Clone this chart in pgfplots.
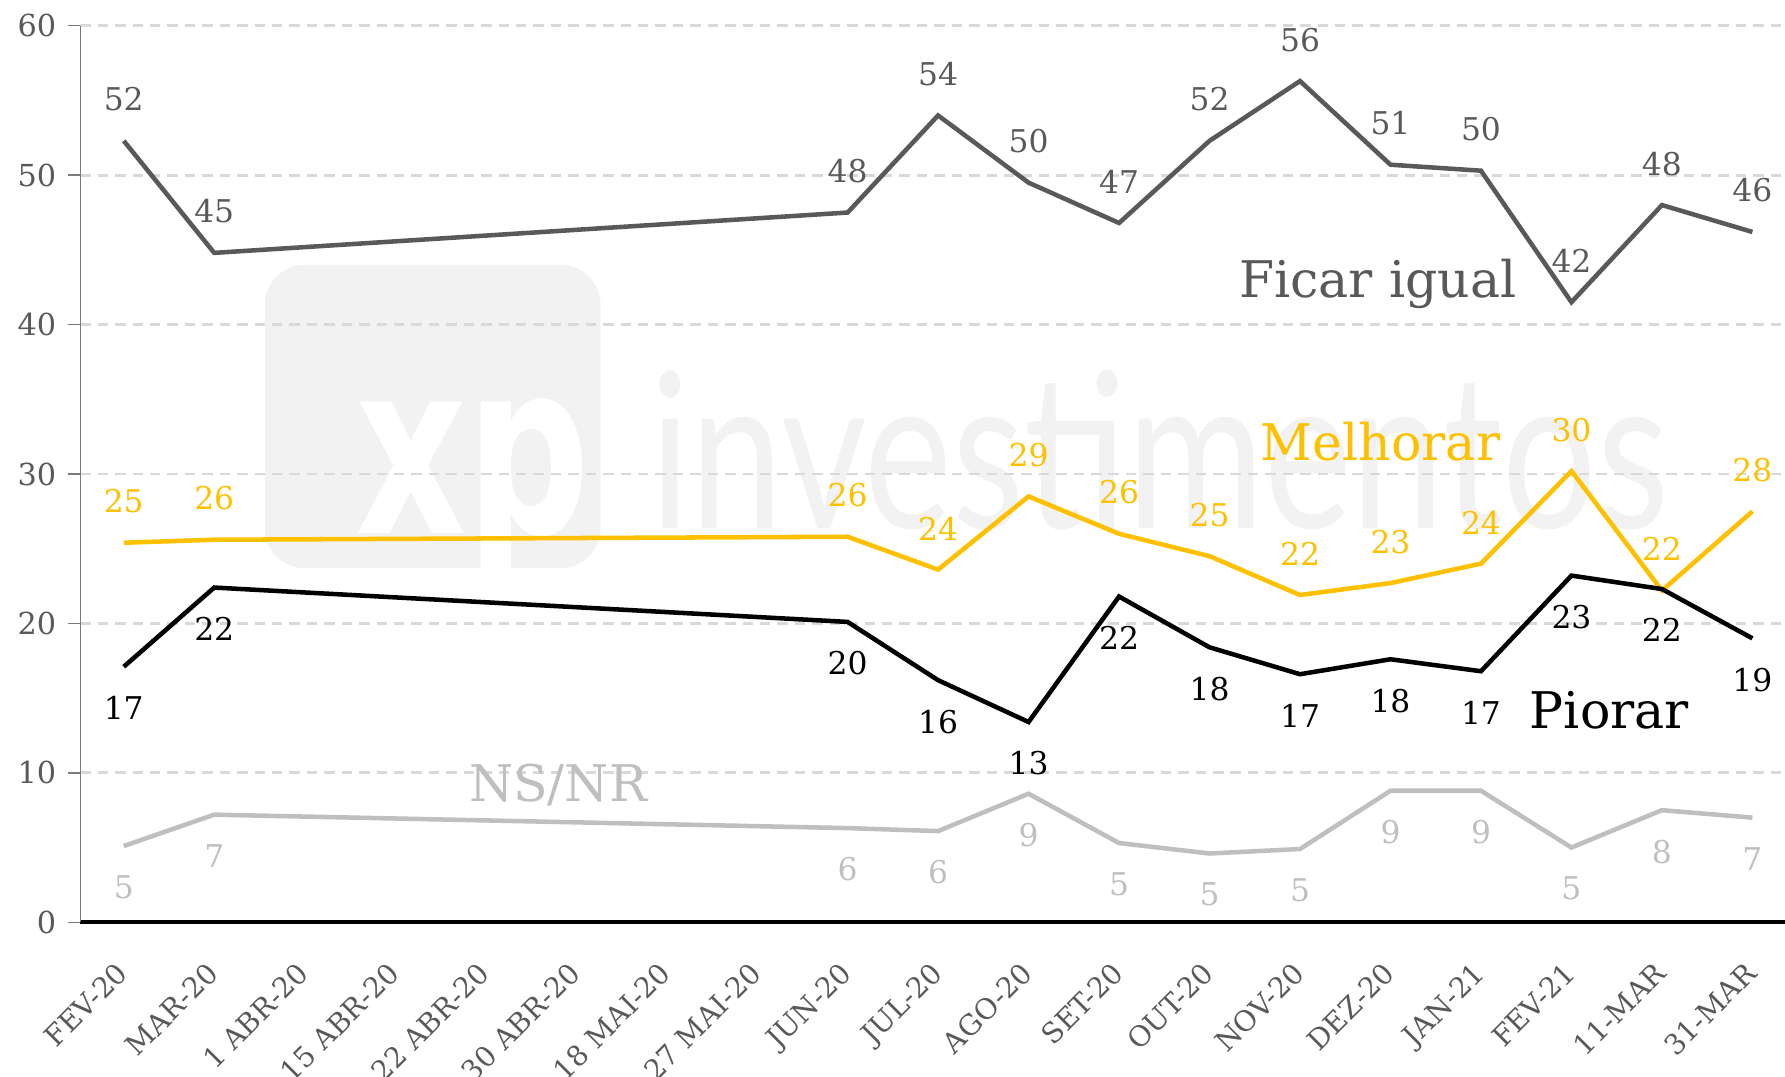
\documentclass[border=0pt]{standalone}
\usepackage{fontspec}
\setmainfont{DejaVu Serif}
\newfontfamily\latofont{Lato}
\newfontfamily\dvsans{DejaVu Sans}
\usepackage{pgfplots}
\pgfplotsset{compat=1.18}
\definecolor{igual}{HTML}{595959}
\definecolor{melhor}{HTML}{FFC000}
\definecolor{nsnr}{HTML}{BFBFBF}
\definecolor{gridc}{HTML}{D9D9D9}
\definecolor{wm}{HTML}{F2F2F2}

\begin{document}
\begin{tikzpicture}
\begin{axis}[
    set layers,
    scale only axis,
    width=17.19cm, height=9.04cm,
    xmin=-0.48, xmax=18.36, ymin=0, ymax=60,
    axis x line*=bottom, axis y line*=left,
    x axis line style={black, line width=1.2pt},
    y axis line style={igual!80, line width=0.4pt},
    ytick={0,10,...,60},
    xtick={0,...,18},
    xticklabels={FEV-20,MAR-20,1 ABR-20,15 ABR-20,22 ABR-20,30 ABR-20,18 MAI-20,27 MAI-20,JUN-20,JUL-20,AGO-20,SET-20,OUT-20,NOV-20,DEZ-20,JAN-21,FEV-21,11-MAR,31-MAR},
    ymajorgrids,
    grid style={gridc, line width=0.8pt, dash pattern=on 3pt off 2pt},
    tick align=outside,
    major tick length=0.12cm,
    major x tick style={draw=none},
    ytick style={igual!80, line width=0.4pt},
    tick label style={font=\fontsize{8.7}{10}\selectfont, text=igual},
    xticklabel style={font=\fontsize{8.1}{10}\selectfont, rotate=45, anchor=north east, xshift=-3.7pt},
    /pgf/number format/assume math mode=true,
    clip=false,
    point meta=explicit symbolic,
    nodes near coords,
    nodes near coords style={font=\fontsize{9}{10}\selectfont},
    every axis plot/.append style={line width=1.3pt},
]
\begin{pgfonlayer}{axis background}
\fill[wm, rounded corners=0.4cm] (axis cs:1.56,23.7) rectangle (axis cs:5.27,44.0);
\node[anchor=base west, text=white, font=\dvsans\bfseries\fontsize{69}{69}\selectfont, inner sep=0pt] at (axis cs:2.55,26) {\scalebox{0.72}[1]{xp}};
\node[anchor=base west, text=wm, font=\latofont\fontsize{62}{62}\selectfont, inner sep=0pt] at (axis cs:5.81,26.35) {\scalebox{0.77}[1]{investimentos}};
\end{pgfonlayer}

% Ficar igual
\addplot[igual, every node near coord/.append style={anchor=south, yshift=4.5pt, text=igual}] coordinates {
    (0,52.3) [52] (1,44.8) [45] (8,47.5) [48] (9,54.0) [54] (10,49.5) [50]
    (11,46.8) [47] (12,52.3) [52] (13,56.3) [56] (14,50.7) [51] (15,50.3) [50]
    (16,41.5) [42] (17,48.0) [48] (18,46.2) [46]
};
% Melhorar
\addplot[melhor, every node near coord/.append style={anchor=south, yshift=4.5pt, text=melhor}] coordinates {
    (0,25.4) [25] (1,25.6) [26] (8,25.8) [26] (9,23.6) [24] (10,28.5) [29]
    (11,26.0) [26] (12,24.5) [25] (13,21.9) [22] (14,22.7) [23] (15,24.0) [24]
    (16,30.2) [30] (17,22.2) [22] (18,27.5) [28]
};
% Piorar
\addplot[black, every node near coord/.append style={anchor=north, yshift=-4.5pt, text=black}] coordinates {
    (0,17.1) [17] (1,22.4) [22] (8,20.1) [20] (9,16.2) [16] (10,13.4) [13]
    (11,21.8) [22] (12,18.4) [18] (13,16.6) [17] (14,17.6) [18] (15,16.8) [17]
    (16,23.2) [23] (17,22.3) [22] (18,19.0) [19]
};
% NS/NR
\addplot[nsnr, every node near coord/.append style={anchor=north, yshift=-4.5pt, text=nsnr}] coordinates {
    (0,5.1) [5] (1,7.2) [7] (8,6.3) [6] (9,6.1) [6] (10,8.6) [9]
    (11,5.3) [5] (12,4.6) [5] (13,4.9) [5] (14,8.8) [9] (15,8.8) [9]
    (16,5.0) [5] (17,7.5) [8] (18,7.0) [7]
};

\node[anchor=base, text=igual, font=\fontsize{14.5}{16}\selectfont] at (axis cs:13.86,41.8) {Ficar igual};
\node[anchor=base, text=melhor, font=\fontsize{14.5}{16}\selectfont] at (axis cs:13.89,30.9) {Melhorar};
\node[anchor=base, text=black, font=\fontsize{14.5}{16}\selectfont] at (axis cs:16.42,13.0) {Piorar};
\node[anchor=base, text=nsnr, font=\fontsize{14.5}{16}\selectfont] at (axis cs:4.8,8.07) {NS/NR};

\coordinate (bbsw) at (rel axis cs:0,0);
\coordinate (bbne) at (rel axis cs:1,1);
\end{axis}
\pgfresetboundingbox
\path ([xshift=-0.81cm,yshift=-1.56cm]bbsw) rectangle ([yshift=0.26cm]bbne);
\end{tikzpicture}
\end{document}
